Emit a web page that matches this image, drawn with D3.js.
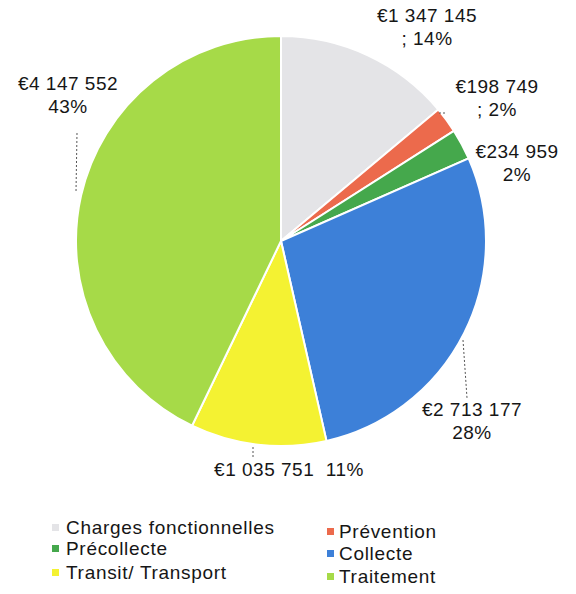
<!DOCTYPE html>
<html>
<head>
<meta charset="utf-8">
<script src="https://cdn.jsdelivr.net/npm/d3@7"></script>
<style>
  body { margin: 0; background: #fff; }
  svg { display: block; font-family: "Liberation Sans", Arial, sans-serif; }
</style>
</head>
<body>
<svg></svg>
<script>
var categories = ["Charges fonctionnelles", "Prévention", "Précollecte", "Collecte", "Transit/ Transport", "Traitement"];
var values = [1347145, 198749, 234959, 2713177, 1035751, 4147552];
var percents = ["14%", "2%", "2%", "28%", "11%", "43%"];
var colors = ["#e4e4e7", "#ec6a4c", "#45a84c", "#3d80d8", "#f4f232", "#a6da48"];

var WIDTH = 576, HEIGHT = 594,
	CX = 281, CY = 241,
	RADIUS = 205;

// label placement relative to pie center
var LABELS = [
	{x: 146, y: -219, sep: "line", pre: "; "},
	{x: 216, y: -148, sep: "line", pre: "; "},
	{x: 236, y: -83, sep: "line", pre: ""},
	{x: 191, y: 175, sep: "line", pre: ""},
	{x: 8, y: 235, sep: "inline", pre: ""},
	{x: -213, y: -151, sep: "line", pre: ""}
];
var LEADERS = [null,
	[[158, -128], [164, -128]],
	null,
	[[182, 99], [186, 157]],
	[[-28, 206], [-28, 216]],
	[[-204, -108], [-205, -49]]];

var svg = d3.select("svg")
	.attr("width", WIDTH)
	.attr("height", HEIGHT);

var fmt = d3.formatLocale({decimal: ",", thousands: " ", grouping: [3], currency: ["€", ""]}).format("$,");

var pie = d3.pie().sort(null).value(function(d) { return d; });
var arc = d3.arc().innerRadius(0).outerRadius(RADIUS);

var g = svg.append("g").attr("transform", "translate(" + CX + "," + CY + ")");

g.selectAll("path.slice")
	.data(pie(values))
  .enter().append("path")
	.attr("class", "slice")
	.attr("d", arc)
	.attr("fill", function(d, i) { return colors[i]; })
	.attr("stroke", "#fff")
	.attr("stroke-width", 2);

// leader lines
LEADERS.forEach(function(l) {
	if (!l) return;
	g.append("line")
		.attr("x1", l[0][0]).attr("y1", l[0][1])
		.attr("x2", l[1][0]).attr("y2", l[1][1])
		.attr("stroke", "#555")
		.attr("stroke-width", 1)
		.attr("stroke-dasharray", "2,2");
});

// data labels
values.forEach(function(v, i) {
	var L = LABELS[i];
	var t = g.append("text")
		.attr("text-anchor", "middle")
		.attr("font-size", 19)
		.attr("letter-spacing", 0.5)
		.attr("fill", "#161616");
	if (L.sep === "line") {
		t.append("tspan").attr("x", L.x).attr("y", L.y).text(fmt(v));
		t.append("tspan").attr("x", L.x).attr("y", L.y + 23).text(L.pre + percents[i]);
	} else {
		t.attr("x", L.x).attr("y", L.y).attr("xml:space", "preserve")
			.text(fmt(v) + "  " + percents[i]);
	}
});

// legend
var legendCols = [52, 327], legendX = [66, 339];
var legendRows = [[534, 555, 579], [538, 560, 583]];
var order = [0, 2, 4, 1, 3, 5];
order.forEach(function(ci, k) {
	var col = k < 3 ? 0 : 1, row = k % 3;
	var y = legendRows[col][row];
	svg.append("rect")
		.attr("x", legendCols[col]).attr("y", y - 10)
		.attr("width", 7).attr("height", 7)
		.attr("fill", colors[ci]);
	svg.append("text")
		.attr("x", legendX[col]).attr("y", y)
		.attr("font-size", 19)
		.attr("letter-spacing", 0.7)
		.attr("fill", "#161616")
		.text(categories[ci]);
});
</script>
</body>
</html>
